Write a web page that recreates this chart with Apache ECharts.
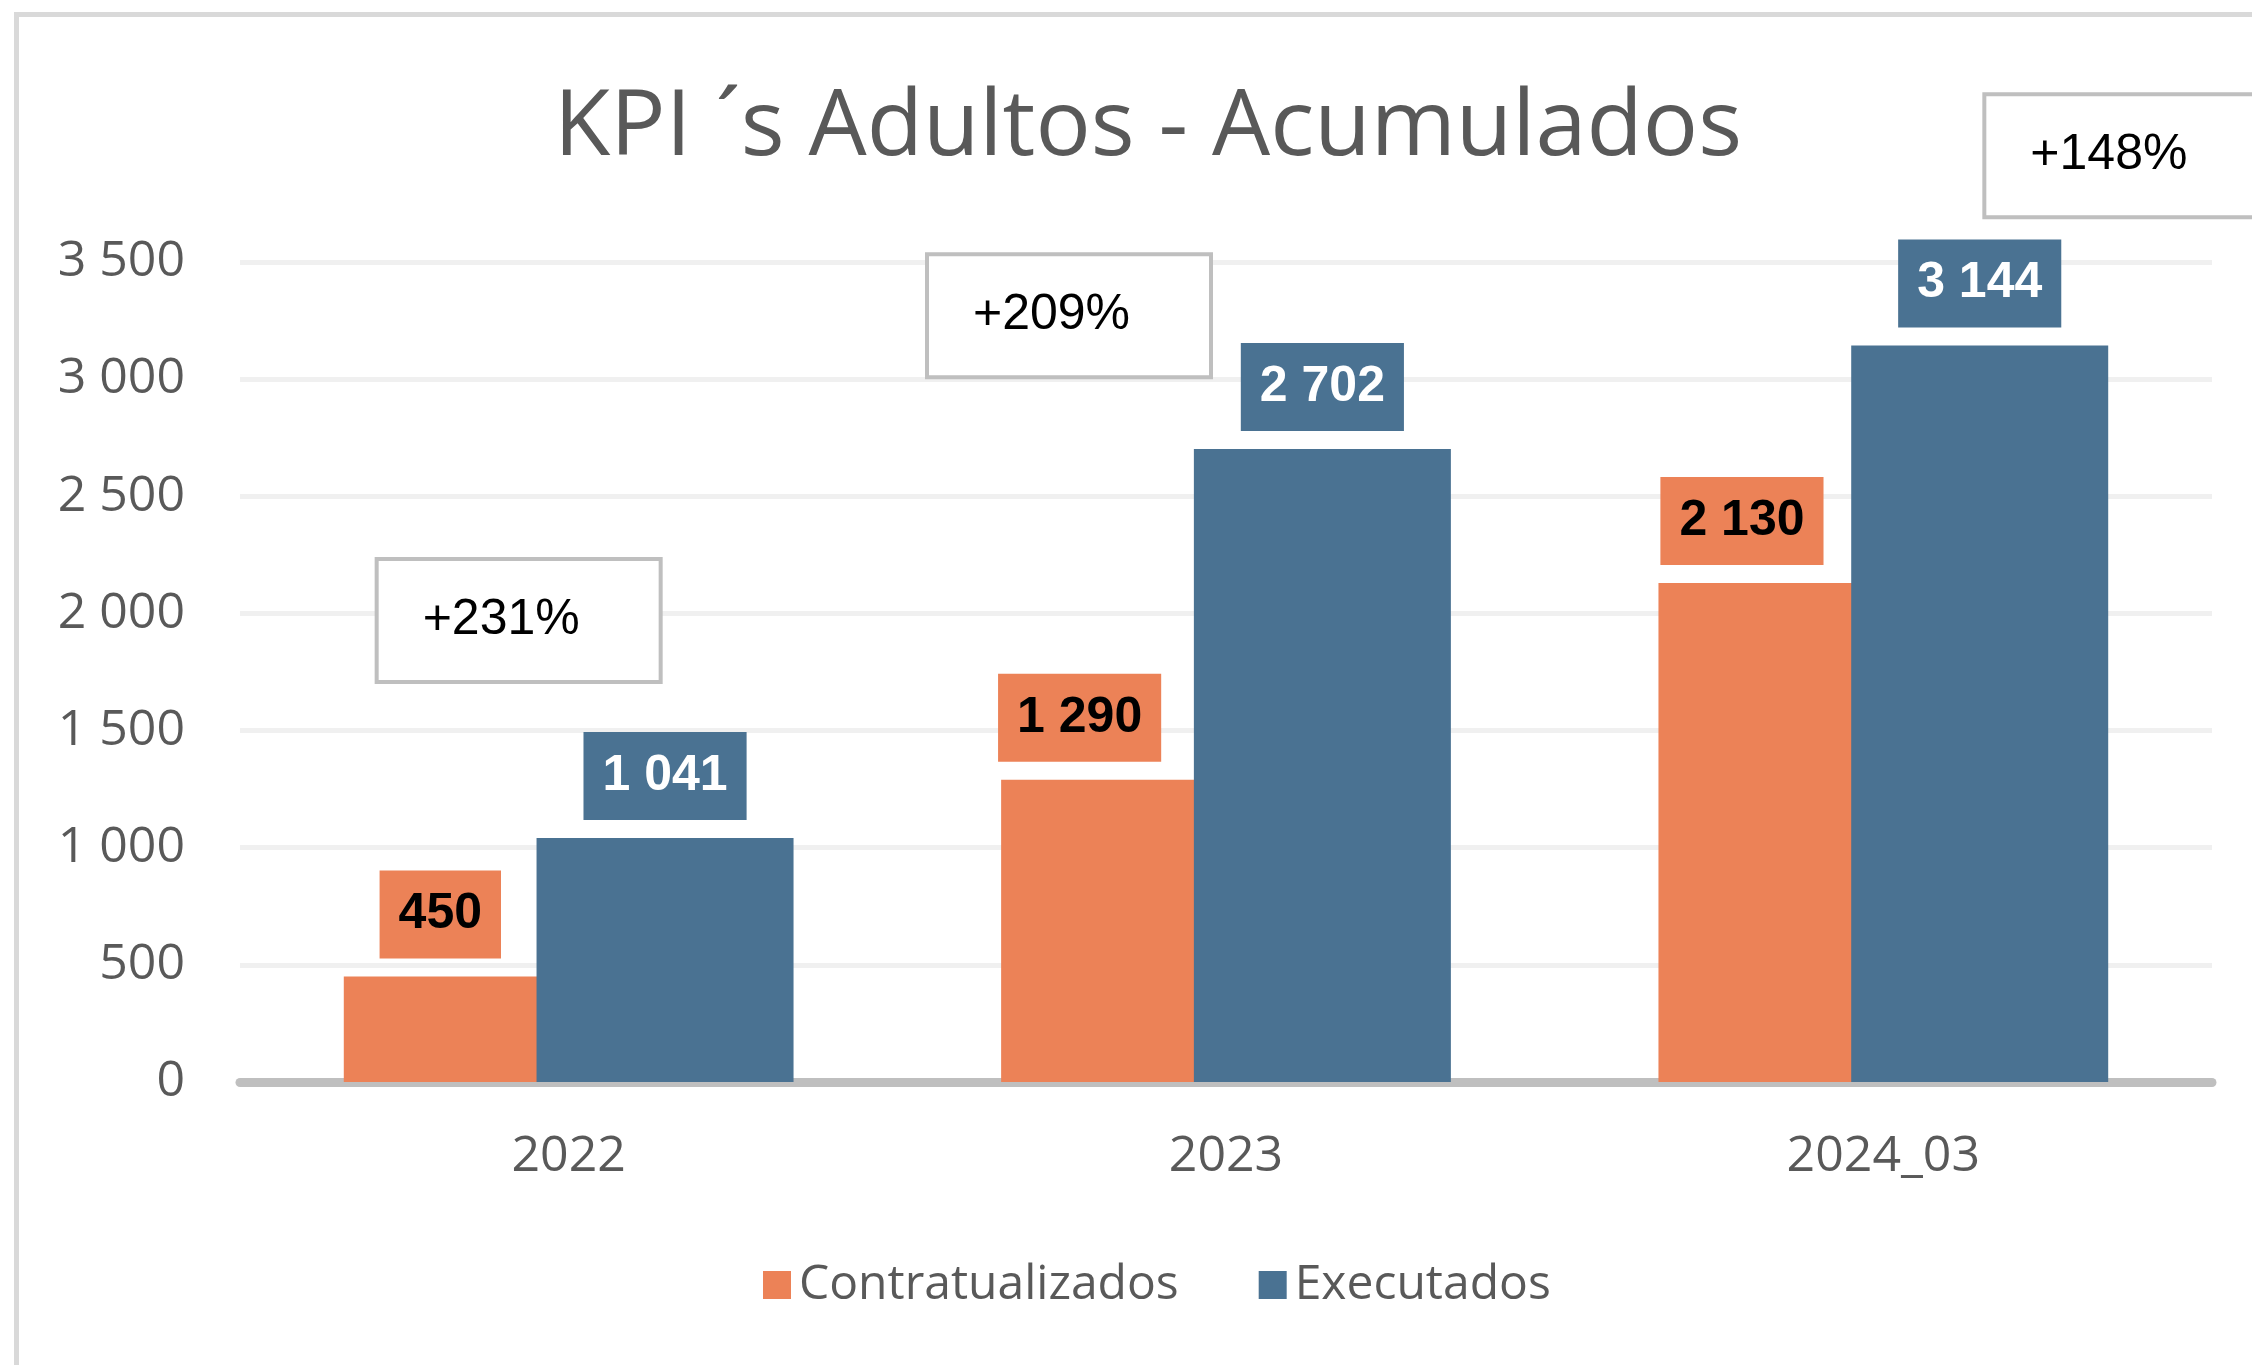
<!DOCTYPE html>
<html>
<head>
<meta charset="utf-8">
<title>KPI ´s Adultos - Acumulados</title>
<script src="https://cdn.jsdelivr.net/npm/echarts@6/dist/echarts.min.js"></script>
<style>
  html, body { margin: 0; padding: 0; background: #ffffff; }
  #chart { width: 2252px; height: 1365px; }
</style>
</head>
<body>
<div id="chart"></div>
<script>
const categories = ['2022', '2023', '2024_03'];
const contratValues = [450, 1290, 2130];
const executValues = [1041, 2702, 3144];
const growthLabels = ['+231%', '+209%', '+148%'];
const yTicks = [0, 500, 1000, 1500, 2000, 2500, 3000, 3500];

// where the free-floating growth boxes sit (shift from category centre, value level of box top)
const growthAnchors = [
  { dx: -194, value: 2241 },
  { dx: -301, value: 3542 },
  { dx: 99, value: 4225 }
];
// Excel nudged the orange labels left of the bar centre
const contratLabelShift = [-32, -50, -45];

const ORANGE = '#EC8257';
const BLUE = '#4A7292';
const TEXT_GREY = '#595959';

function formatThousands(value) {
  return String(value).replace(/\B(?=(\d{3})+(?!\d))/g, ' ');
}

document.addEventListener('DOMContentLoaded', () => {
  const chart = echarts.init(document.getElementById('chart'), null, { renderer: 'canvas' });

  const labelBase = {
    show: true,
    position: 'top',
    distance: 18,
    fontFamily: 'Liberation Sans',
    fontWeight: 'bold',
    fontSize: 50,
    lineHeight: 50,
    padding: [19, 19],
    formatter: (p) => formatThousands(p.value)
  };

  const option = {
    backgroundColor: '#ffffff',
    animation: false,
    title: {
      text: 'KPI ´s Adultos - Acumulados',
      left: 1148,
      top: 83,
      padding: 0,
      textAlign: 'center',
      textStyle: {
        fontFamily: 'Open Sans',
        fontSize: 92,
        fontWeight: 'normal',
        color: TEXT_GREY,
        lineHeight: 92
      }
    },
    legend: {
      data: ['Contratualizados', 'Executados'],
      left: 758,
      top: 1256,
      icon: 'rect',
      itemWidth: 28,
      itemHeight: 28,
      itemGap: 80,
      textStyle: {
        fontFamily: 'Open Sans',
        fontSize: 48,
        color: TEXT_GREY,
        padding: [0, 0, 0, 3]
      }
    },
    grid: {
      left: 240,
      right: 40,
      top: 262,
      bottom: 283,
      containLabel: false,
      outerBoundsMode: 'none'
    },
    xAxis: {
      type: 'category',
      data: categories,
      axisLine: {
        show: true,
        lineStyle: { color: '#BFBFBF', width: 9 }
      },
      axisTick: { show: false },
      axisLabel: {
        margin: 50,
        fontFamily: 'Open Sans',
        fontSize: 50,
        color: TEXT_GREY
      },
      splitLine: { show: false }
    },
    yAxis: {
      type: 'value',
      min: yTicks[0],
      max: yTicks[yTicks.length - 1],
      interval: yTicks[1] - yTicks[0],
      axisLine: { show: false },
      axisTick: { show: false },
      axisLabel: {
        margin: 55,
        fontFamily: 'Open Sans',
        fontSize: 50,
        color: TEXT_GREY,
        formatter: (v) => formatThousands(v)
      },
      splitLine: {
        show: true,
        lineStyle: { color: '#F0F0F0', width: 5 }
      }
    },
    series: [
      {
        name: 'Contratualizados',
        type: 'bar',
        barWidth: 257,
        barGap: '-25%',
        itemStyle: { color: ORANGE },
        label: Object.assign({}, labelBase, {
          color: '#000000',
          backgroundColor: ORANGE
        }),
        data: contratValues.map((v, i) => ({
          value: v,
          label: { offset: [contratLabelShift[i], 0] }
        }))
      },
      {
        name: 'Executados',
        type: 'bar',
        barWidth: 257,
        barGap: '-25%',
        itemStyle: { color: BLUE },
        label: Object.assign({}, labelBase, {
          color: '#ffffff',
          backgroundColor: BLUE
        }),
        data: executValues
      }
    ]
  };

  chart.setOption(option);

  const boxW = 288;
  const boxH = 127;
  const boxes = growthLabels.map((text, i) => {
    const anchor = growthAnchors[i];
    const pt = chart.convertToPixel({ gridIndex: 0 }, [i, anchor.value]);
    return {
      type: 'group',
      x: pt[0] + anchor.dx,
      y: pt[1],
      z: 20,
      children: [
        {
          type: 'rect',
          shape: { x: 2, y: 2, width: boxW - 4, height: boxH - 4 },
          style: { fill: '#ffffff', stroke: '#BFBFBF', lineWidth: 4 }
        },
        {
          type: 'text',
          x: 48,
          y: boxH / 2,
          style: {
            text,
            fontFamily: 'Liberation Sans',
            fontSize: 50,
            fill: '#000000',
            verticalAlign: 'middle',
            align: 'left'
          }
        }
      ]
    };
  });

  chart.setOption({
    graphic: [
      {
        type: 'rect',
        z: 1,
        shape: { x: 16.5, y: 14.5, width: 2600, height: 1600 },
        style: { fill: 'none', stroke: '#D9D9D9', lineWidth: 5 }
      }
    ].concat(boxes)
  });
});
</script>
</body>
</html>
